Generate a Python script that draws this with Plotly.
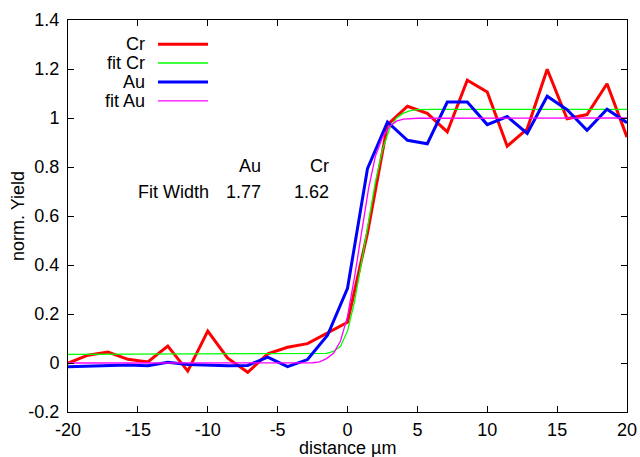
import plotly.graph_objects as go

# ---- data ----
distance = [-20, -18.57, -17.14, -15.71, -14.29, -12.86, -11.43, -10, -8.57, -7.14,
            -5.71, -4.29, -2.86, -1.43, 0, 1.43, 2.86, 4.29, 5.71, 7.14,
            8.57, 10, 11.43, 12.86, 14.29, 15.71, 17.14, 18.57, 20]
cr_yield = [0.0, 0.032, 0.045, 0.015, 0.004, 0.069, -0.033, 0.13, 0.02, -0.038,
            0.037, 0.064, 0.079, 0.122, 0.166, 0.53, 0.972, 1.048, 1.019, 0.943,
            1.154, 1.106, 0.885, 0.956, 1.199, 0.997, 1.014, 1.14, 0.922]
au_yield = [-0.015, -0.012, -0.009, -0.008, -0.011, 0.003, -0.006, -0.01, -0.011, -0.01,
            0.024, -0.015, 0.014, 0.113, 0.305, 0.793, 0.984, 0.909, 0.895, 1.065,
            1.065, 0.973, 1.006, 0.937, 1.089, 1.034, 0.95, 1.036, 0.981]

fit_cr_x = [-20, -2.0, -1.5, -1.0, -0.5, 0.0, 0.5, 1.0, 1.5, 2.0, 2.5, 3.0, 3.5, 4.0, 4.5, 5.0, 6.0, 20]
fit_cr_y = [0.035, 0.036, 0.039, 0.047, 0.068, 0.13, 0.25, 0.41, 0.58, 0.74, 0.87, 0.955, 1.0, 1.02, 1.03, 1.034, 1.035, 1.035]
fit_au_x = [-20, -2.5, -2.0, -1.5, -1.0, -0.5, 0.0, 0.5, 1.0, 1.5, 2.0, 2.5, 3.0, 3.5, 4.0, 5.0, 20]
fit_au_y = [0.0, 0.001, 0.005, 0.018, 0.04, 0.09, 0.19, 0.35, 0.53, 0.71, 0.845, 0.92, 0.965, 0.987, 0.995, 0.999, 1.0]

x_ticks = [-20, -15, -10, -5, 0, 5, 10, 15, 20]
x_tick_labels = ["-20", "-15", "-10", "-5", "0", "5", "10", "15", "20"]
y_ticks = [-0.2, 0, 0.2, 0.4, 0.6, 0.8, 1.0, 1.2, 1.4]
y_tick_labels = ["-0.2", "0", "0.2", "0.4", "0.6", "0.8", "1", "1.2", "1.4"]

series_names = ["Cr", "fit Cr", "Au", "fit Au"]
series_colors = ["#ff0000", "#00ff00", "#0000ff", "#ff00ff"]
series_widths = [3, 1.3, 3, 1.3]

x_title = "distance µm"
y_title = "norm. Yield"
fit_header = ["Au", "Cr"]
fit_label = "Fit Width"
fit_widths = ["1.77", "1.62"]

FONT = "Liberation Sans, Arial, sans-serif"
FS = 18

fig = go.Figure()
all_x = [distance, fit_cr_x, distance, fit_au_x]
all_y = [cr_yield, fit_cr_y, au_yield, fit_au_y]
for name, xs, ys, col, w in zip(series_names, all_x, all_y, series_colors, series_widths):
    fig.add_trace(go.Scatter(x=xs, y=ys, mode="lines", name=name,
                             line=dict(color=col, width=w), showlegend=False))

L, R, T, B = 68, 13, 20, 45
W, H = 640, 457
pw, ph = W - L - R, H - T - B


def px(xp):
    return (xp - L) / pw


def py(yp):
    return (H - B - yp) / ph


def label(txt, xp, yp, xanchor="right", angle=0):
    return dict(x=px(xp), y=py(yp), xref="paper", yref="paper", text=txt,
                showarrow=False, xanchor=xanchor, yanchor="middle", textangle=angle,
                font=dict(family=FONT, size=FS, color="black"))


annotations = []
shapes = []
# legend (gnuplot style: right-aligned text followed by line sample)
legend_rows = [44.3, 63, 82, 100.8]
for name, col, w, yrow in zip(series_names, series_colors, series_widths, legend_rows):
    annotations.append(label(name, 147, yrow))
    shapes.append(dict(type="line", xref="paper", yref="paper", x0=px(158), x1=px(208),
                       y0=py(yrow), y1=py(yrow), line=dict(color=col, width=w)))

# fit width table
for txt, xr in zip(fit_header, [263, 331]):
    annotations.append(label(txt, xr, 165.5))
for txt, xr in zip([fit_label] + fit_widths, [211, 263, 331]):
    annotations.append(label(txt, xr, 191.5))

# axis titles
annotations.append(label(x_title, 347, 448, xanchor="center"))
annotations.append(label(y_title, 18, 216, xanchor="center", angle=-90))

axis_common = dict(ticks="inside", ticklen=6, tickcolor="black", showline=True,
                   linecolor="black", linewidth=1, mirror="allticks", showgrid=False,
                   zeroline=False, automargin=False,
                   tickfont=dict(family=FONT, size=FS, color="black"))

fig.update_layout(
    width=W, height=H,
    margin=dict(l=L, r=R, t=T, b=B, pad=0),
    paper_bgcolor="white", plot_bgcolor="white",
    font=dict(family=FONT, size=FS, color="black"),
    annotations=annotations, shapes=shapes,
    xaxis=dict(range=[-20, 20], tickvals=x_ticks, ticktext=x_tick_labels,
               ticklabelstandoff=1, **axis_common),
    yaxis=dict(range=[-0.2, 1.4], tickvals=y_ticks, ticktext=y_tick_labels,
               ticklabelstandoff=4, **axis_common),
)

fig.write_html("out.html", config={"displayModeBar": False},
               post_script="document.body.style.margin='0';document.body.style.overflow='hidden';")
